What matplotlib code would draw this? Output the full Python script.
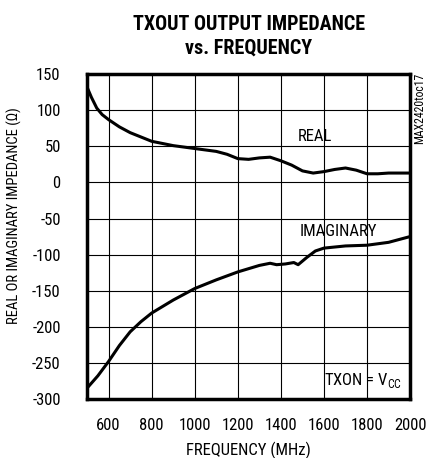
import matplotlib
matplotlib.use("Agg")
import matplotlib.pyplot as plt
import numpy as np
from matplotlib.ticker import MultipleLocator

plt.rcParams['font.family'] = ['Roboto Condensed', 'Archivo Narrow', 'Sofia Sans Condensed', 'DejaVu Sans']
plt.rcParams['axes.unicode_minus'] = False

freq_real = [500, 520, 545, 570, 600, 650, 700, 800, 900, 1000, 1100, 1150, 1200, 1250,
             1300, 1350, 1400, 1450, 1500, 1550, 1600, 1650, 1700, 1750, 1800, 1850, 1900, 2000]
real = [132, 118, 103, 94, 87, 77, 69, 57, 51, 47, 43, 39, 33, 32,
        34, 35, 30, 24, 16, 13, 15, 18, 20, 17, 12, 12, 13, 13]

freq_imag = [500, 550, 600, 650, 700, 750, 800, 900, 1000, 1100, 1200, 1300, 1350, 1380,
             1420, 1460, 1480, 1520, 1560, 1600, 1700, 1800, 1900, 2000]
imag = [-285, -268, -248, -226, -207, -193, -181, -163, -147, -135, -124, -115, -112, -114,
        -113, -111, -114, -104, -95, -91, -88, -87, -83, -75]

xticks = [600, 800, 1000, 1200, 1400, 1600, 1800, 2000]

fig = plt.figure(figsize=(4.29, 4.58), dpi=100)
ax = fig.add_axes([0.203, 0.129, 0.753, 0.709])

ax.plot(freq_real, real, color='black', lw=2.2)
ax.plot(freq_imag, imag, color='black', lw=2.2)

ax.set_xlim(500, 2000)
ax.set_ylim(-300, 150)
ax.set_xticks(xticks)
ax.yaxis.set_major_locator(MultipleLocator(50))
ax.grid(True, color='black', lw=0.8)
ax.tick_params(length=0, labelsize=12, pad=19)
ax.tick_params(axis='x', pad=14)
for s in ax.spines.values():
    s.set_linewidth(2.5)

ax.set_xlabel("FREQUENCY (MHz)", fontsize=12, labelpad=6)
ax.set_ylabel("REAL OR IMAGINARY IMPEDANCE (\u03a9)", fontsize=10.5)
ax.yaxis.set_label_coords(-0.200, 0.566)
fig.text(0.58, 0.968, "TXOUT OUTPUT IMPEDANCE\nvs. FREQUENCY", ha='center', va='top',
         fontsize=14.5, fontweight='black', linespacing=1.3)

ax.text(1560, 64, "REAL", ha='center', va='center', fontsize=12)
ax.text(1665, -68, "IMAGINARY", ha='center', va='center', fontsize=12)
ax.text(1960, -274, "TXON = V$_{\\mathregular{CC}}$", ha='right', va='center', fontsize=12)
fig.text(0.979, 0.841, "MAX2420toc17", rotation=90, ha='center', va='top', fontsize=8.5)

fig.savefig("out.png", dpi=100)
